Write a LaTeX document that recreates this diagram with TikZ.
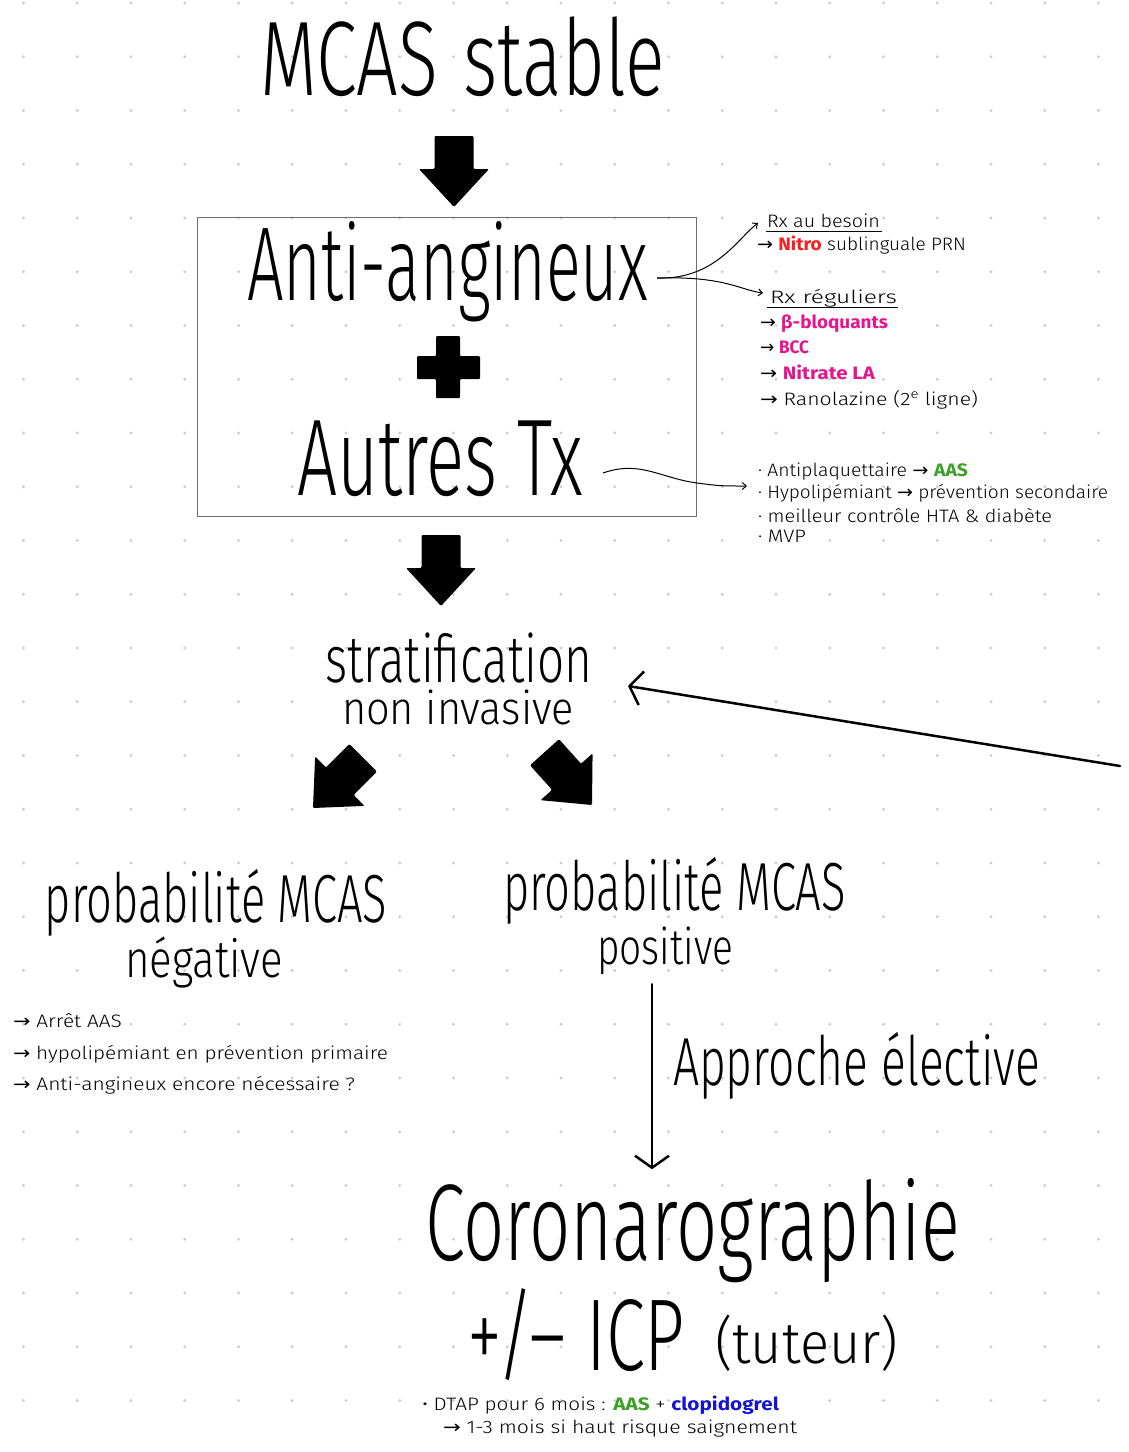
\documentclass[tikz,border=0pt]{standalone}
\usepackage{fontspec}
\setmainfont{Fira Sans Light}
\newfontfamily\symfont{DejaVu Sans}
\newfontfamily\colfont{Fira Sans}
\usetikzlibrary{arrows.meta}
\definecolor{dotc}{RGB}{205,205,205}
\definecolor{boxgray}{RGB}{110,110,110}
\definecolor{nitrored}{RGB}{250,30,30}
\definecolor{mag}{RGB}{228,22,140}
\definecolor{aasgreen}{RGB}{60,160,40}
\definecolor{clopblue}{RGB}{20,20,210}
\newcommand\ar{{\symfont →}}
\newcommand\colb{\colfont\bfseries}
\newcommand\hwtext[3]{\resizebox{#1pt}{\height}{\fontsize{#2}{#2}\selectfont #3}}
\tikzset{
  txt/.style={inner sep=0pt, outer sep=0pt, anchor=base west, text=black},
  thinarr/.style={line width=1pt, -{Straight Barb[length=4pt,width=7pt]}},
  ul/.style={line width=0.8pt},
  bigarr/.style={line width=2.5pt, line cap=round, -{Straight Barb[length=12pt,width=34pt,line width=2.5pt]}},
  blockarr/.pic={\fill[black, rounded corners=1.2pt] (0,0) -- (-35,-38) -- (-19.5,-38) -- (-19.5,-71) -- (19.5,-71) -- (19.5,-38) -- (35,-38) -- cycle;}
}
\begin{document}
\begin{tikzpicture}[x=1pt,y=-1pt]
\useasboundingbox (0,0) rectangle (1128,1452);
\fill[white] (0,0) rectangle (1128,1452);
% dot grid
\foreach \i in {0,...,20}{
  \foreach \j in {0,...,26}{
    \fill[dotc] (23.5+53.75*\i, 3+53.75*\j) circle (1.6);
  }
}
% title
\node[txt] (title) at (260,95) {\hwtext{405}{106}{MCAS\hspace{0.35em}stable}};
\pic at (454,207) {blockarr};
% box
\node[draw=boxgray, line width=1pt, minimum width=499pt, minimum height=299pt, inner sep=0pt] (box) at (446.5,366.5) {};
\node[txt] (aa) at (247,300) {\hwtext{401}{105}{Anti-angineux}};
\fill[black, rounded corners=1pt] (436,336) -- (460,336) -- (460,356) -- (480,356) -- (480,379) -- (460,379) -- (460,398) -- (436,398) -- (436,379) -- (417,379) -- (417,356) -- (436,356) -- cycle;
\node[txt] (autres) at (297,495) {\hwtext{286}{109}{Autres Tx}};
% right notes
\node[txt] (rx1) at (767,227) {\hwtext{113}{18}{Rx au besoin}};
\draw[ul] ([shift={(-1pt,-4pt)}]rx1.base west) -- ([shift={(2pt,-4pt)}]rx1.base east);
\node[txt] (nitro) at (757,250) {\hwtext{209}{18}{\ar\ \textcolor{nitrored}{\colb Nitro} sublinguale PRN}};
\node[txt] (rx2) at (770,303) {\hwtext{127}{18}{Rx réguliers}};
\draw[ul] ([shift={(-3pt,-4pt)}]rx2.base west) -- ([shift={(1pt,-4pt)}]rx2.base east);
\node[txt] (bb) at (760,328) {\hwtext{128}{18}{\ar\ \textcolor{mag}{\colb β-bloquants}}};
\node[txt] (bcc) at (760,353) {\hwtext{49}{18}{\ar\ \textcolor{mag}{\colb BCC}}};
\node[txt] (nla) at (760,379) {\hwtext{115}{18}{\ar\ \textcolor{mag}{\colb Nitrate LA}}};
\node[txt] (rano) at (760,405) {\hwtext{218}{18}{\ar\ Ranolazine (2\textsuperscript{e} ligne)}};
\coordinate (aaout) at (657,278);
\coordinate (tip1) at (758,223);
\coordinate (tip2) at (763,293);
\draw[thinarr] (aaout) .. controls (715,280) and (738,238) .. (tip1);
\draw[thinarr] (aaout) .. controls (725,276) and (740,290) .. (tip2);
% autres notes
\node[txt] (n1) at (758,476) {\hwtext{210}{18}{· Antiplaquettaire \ar\ \textcolor{aasgreen}{\colb AAS}}};
\node[txt] (n2) at (758,498) {\hwtext{350}{18}{· Hypolipémiant \ar\ prévention secondaire}};
\node[txt] (n3) at (758,522) {\hwtext{294}{18}{· meilleur contrôle HTA \& diabète}};
\node[txt] (n4) at (758,542) {\hwtext{48}{18}{· MVP}};
\coordinate (atout) at (603,473);
\coordinate (tip3) at (747,486);
\draw[thinarr] (atout) .. controls (640,460) and (660,478) .. (697,483) .. controls (720,486) .. (tip3);
% second arrow
\pic at (441,606) {blockarr};
\node[txt] (strat1) at (325,682) {\hwtext{267}{66}{stratification}};
\node[txt] (strat2) at (342,724) {\hwtext{232}{46}{non invasive}};
\coordinate (longstart) at (1120,766);
\coordinate (longtip) at (628,686);
\draw[bigarr] (longstart) -- (longtip);
\pic[rotate=-45] at (313,808) {blockarr};
\pic[rotate=42] at (592,805) {blockarr};
% probability nodes
\node[txt] (pn1) at (45,922) {\hwtext{342}{68}{probabilité MCAS}};
\node[txt] (pn2) at (125,977) {\hwtext{158}{52}{négative}};
\node[txt] (pp1) at (503,910) {\hwtext{343}{68}{probabilité MCAS}};
\node[txt] (pp2) at (597,964) {\hwtext{136}{50}{positive}};
% left notes
\node[txt] (l1) at (13,1027) {\hwtext{109}{18}{\ar\ Arrêt AAS}};
\node[txt] (l2) at (13,1059) {\hwtext{375}{18}{\ar\ hypolipémiant en prévention primaire}};
\node[txt] (l3) at (13,1090) {\hwtext{342}{18}{\ar\ Anti-angineux encore nécessaire ?}};
% elective
\draw[bigarr] ([shift={(-13pt,-10pt)}]pp2.south) -- ++(0,185);
\node[txt] (appr) at (673,1085) {\hwtext{367}{68}{Approche élective}};
% coronarographie
\node[txt] (coro) at (425,1260) {\hwtext{535}{109}{Coronarographie}};
\node[txt] (icp) at (467,1370) {\hwtext{218}{102}{+/– ICP}};
\node[txt] (tut) at (715,1363) {\hwtext{183}{58}{(tuteur)}};
\node[txt] (b1) at (422,1410) {\hwtext{357}{18}{• DTAP pour 6 mois : \textcolor{aasgreen}{\colb AAS} + \textcolor{clopblue}{\colb clopidogrel}}};
\node[txt] (b2) at (443,1433) {\hwtext{354}{18}{\ar\ 1-3 mois si haut risque saignement}};
\end{tikzpicture}
\end{document}
